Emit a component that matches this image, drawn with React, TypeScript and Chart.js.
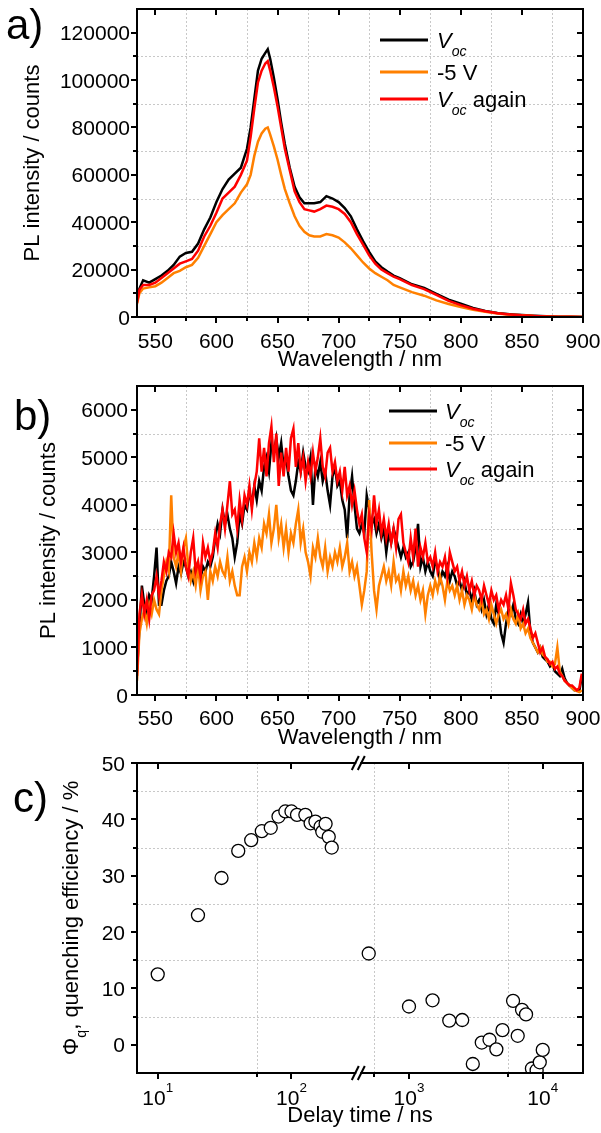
import React, { useEffect, useRef } from "react";
import { Chart, registerables } from "chart.js";

Chart.register(...registerables);

const FONT = '"Liberation Sans", Arial, Helvetica, sans-serif';

// ---------------- Series meta ----------------
const seriesColors = ["#000000", "#FF8000", "#FF0000"];

// ---------------- Panel a data ----------------
const wavelengthA = [
  535, 537, 540, 545, 550, 555, 560, 565, 570, 575,
  580, 585, 590, 595, 600, 605, 610, 615, 620, 625,
  628, 631, 634, 637, 640, 642, 644, 647, 650, 653,
  656, 660, 664, 668, 672, 676, 680, 685, 690, 695,
  700, 705, 710, 715, 720, 725, 730, 735, 740, 745,
  750, 760, 770, 780, 790, 800, 810, 820, 830, 840,
  850, 860, 870, 880, 890, 900,
];
const vocA = [
  7000, 12000, 15500, 14500, 16000, 17500, 19500, 22000, 25500, 27000,
  27500, 31000, 37000, 42000, 48500, 54000, 58000, 60500, 63000, 71000,
  80000, 92000, 104000, 109000, 111500, 113000, 109000, 101000, 92000, 82000,
  73000, 63000, 55000, 50500, 48000, 48000, 48000, 48500, 51000, 50000,
  48500, 46000, 42500, 37000, 32000, 27500, 23500, 21000, 19200, 17500,
  16400, 13800, 12300, 9800, 7300, 5600, 3800, 2500, 1700, 1200,
  800, 500, 300, 150, 80, 0,
];
const minus5A = [
  5500, 10000, 12000, 12500, 13000, 14500, 16500, 18500, 19500, 21000,
  22000, 25000, 30000, 35000, 40000, 43000, 45500, 48000, 52500, 56000,
  60000, 68000, 74000, 77500, 79500, 80000, 77000, 72000, 66500, 60000,
  54000, 48000, 42500, 38500, 36000, 34500, 34000, 34000, 35000, 34500,
  33500, 31500, 29000, 26000, 23000, 20500, 18500, 17000, 15500, 13500,
  12500, 10500, 9000, 7000, 5500, 4200, 3000, 2200, 1500, 1000,
  700, 400, 250, 150, 80, 0,
];
const vocAgainA = [
  6000, 11500, 13500, 13500, 14500, 16500, 18500, 20500, 22500, 23500,
  24500, 28000, 34000, 38500, 44000, 50000, 52500, 55000, 60000, 66000,
  76000, 88000, 99000, 104000, 107000, 108000, 104000, 97000, 89000, 80000,
  71000, 62000, 53000, 48500, 45500, 45000, 44500, 45500, 47000, 46500,
  45500, 43500, 40000, 35000, 30500, 26000, 22500, 20000, 18500, 17000,
  16000, 13500, 11800, 9300, 6800, 5000, 3500, 2400, 1600, 1100,
  700, 450, 250, 150, 80, 0,
];

// ---------------- Panel b data (2 nm sampling from 535 nm) ----------------
const wavelengthBStart = 535;
const wavelengthBStep = 2;
const vocB = [
  500, 1400, 2300, 1900, 1700, 2100, 2000, 2500, 3100, 1900,
  1900, 2200, 2400, 2500, 2800, 2600, 2350, 2700, 2550, 2800,
  2700, 2500, 2600, 2400, 2750, 2550, 2450, 2700, 2600, 2800,
  2700, 2900, 3300, 3600, 3400, 3900, 3600, 3800, 3500, 3300,
  2900, 3200, 3800, 3600, 4000, 3900, 4300, 4000, 4400, 4100,
  4500, 4300, 4800, 5000, 4700, 5300, 5100, 5400, 5000, 5300,
  4800, 5000, 4600, 4300, 4200, 4500, 4900, 4700, 5100, 4800,
  4700, 5000, 4000, 4800, 4600, 4900, 4500, 4700, 4300, 4000,
  4600, 4800, 4400, 4500, 4100, 3900, 3300, 4200, 4600, 4000,
  3500, 3400, 3600, 3400, 4200, 3900, 3600, 3700, 3400, 3600,
  3300, 3500, 3000, 3400, 3200, 3500, 3300, 3100, 2900, 3100,
  2900, 3000, 2700, 2800, 3100, 3600, 2700, 2900, 2600, 2800,
  2600, 2500, 2800, 2700, 2400, 2600, 2500, 2700, 2400, 2600,
  2500, 2300, 2400, 2200, 2400, 2100, 2200, 2000, 2200, 1900,
  2000, 1800, 2000, 1700, 1900, 1600, 1500, 1900, 1700, 1300,
  1100, 1500, 1800, 1700, 1900, 1600, 1500, 1700, 1500, 1700,
  1950, 1300, 1100, 1000, 900, 1000, 800, 750, 700, 600,
  650, 500, 450, 400, 550, 350, 250, 200, 150, 100,
  100, 80, 400,
];
const minus5B = [
  300, 1300, 1600, 1800, 1500, 1900, 1700, 2000, 1800, 1700,
  2200, 2500, 2800, 2600, 4200, 2900, 2700, 3000, 2600, 3100,
  3300, 2700, 2400, 2600, 2300, 2700, 2200, 2500, 2600, 2000,
  2600, 2400, 2700, 2500, 2800, 2600, 2500, 2900, 2400, 2600,
  2300, 2100, 2100, 2700, 2900, 2600, 3000, 2800, 3200, 2900,
  3300, 3100, 3600, 3400, 3800, 3200, 3500, 4000, 3300, 3600,
  3100, 3500, 3000, 3400, 3200, 3600, 3900, 3200, 3500, 3000,
  2800, 2500, 3100, 2900, 3300, 2900, 2700, 3100, 2600, 2900,
  2700, 3000, 2800, 3100, 2700, 2900, 3200, 2600, 2800, 2500,
  2700, 2300, 1900, 2200, 2600, 4100, 3000, 2200, 1800, 2300,
  2500, 2700, 2400, 2600, 2300, 2800, 2400, 2500, 2200, 2600,
  2300, 2500, 2200, 2400, 2100, 2300, 2000, 2200, 1700, 2100,
  2300, 2100, 2400, 2200, 2500, 2300, 2000, 2400, 2200, 2300,
  2100, 2300, 2000, 2200, 1900, 2100, 2000, 1800, 2100, 1900,
  1800, 2000, 1700, 1800, 1600, 1900, 1700, 1500, 1700, 1800,
  1600, 1700, 1500, 1800, 1600, 1500, 1700, 1400, 1500, 1300,
  1400, 1200, 1100, 1000, 900, 1000, 850, 800, 700, 700,
  600, 650, 1000, 500, 400, 300, 250, 200, 150, 100,
  80, 60, 100,
];
const vocAgainB = [
  400, 1700, 2100, 1700, 2000, 1600, 2100, 2200, 2500, 2100,
  2400, 2800, 2600, 3000, 2900, 3400, 3000, 3200, 2800, 3100,
  2700, 2500, 3000, 3300, 2600, 2800, 2500, 3200, 2900, 3100,
  2800, 3000, 3400, 3100, 3600, 3900, 3500, 4000, 4500, 3800,
  3900, 3500, 4100, 3700, 4200, 4000, 4400, 3900, 4400, 4700,
  5400, 4700, 5200, 4600, 5300, 5650, 4900, 5500, 4400, 5100,
  4600, 5200, 4700, 5400, 5600, 4800, 5300, 4700, 5000, 4500,
  4900, 4600, 5100, 4700, 5000, 5400, 4800, 4600, 5100, 5200,
  4700, 4900, 4500, 4700, 4300, 4800, 4200, 4400, 4000, 4300,
  3900, 3600, 3800, 3300, 3000, 3800, 3500, 4200, 3600, 3900,
  3400, 3700, 3300, 3600, 3200, 3500, 3100, 3700, 3800, 3200,
  3000, 2800, 3300, 2900, 3500, 2700, 3100, 2900, 3200, 2800,
  2900, 2700, 3000, 2600, 2800, 2700, 2900, 2500, 3000, 2800,
  2600, 2700, 2400, 2600, 2300, 2500, 2200, 2400, 2100, 2300,
  2200, 2000, 2300, 2100, 1900, 2200, 2000, 2100, 1800, 2000,
  1900, 2100, 1800, 2350, 2100, 1800, 1700, 1600, 1800, 1500,
  1600, 1400, 1200, 1300, 1100, 900, 1000, 800, 750, 650,
  700, 550, 600, 450, 400, 300, 250, 200, 200, 150,
  100, 150, 450,
];
const wavelengthB = vocB.map((_, i) => wavelengthBStart + i * wavelengthBStep);

// ---------------- Panel c data ----------------
const delayNs = [
  10, 20, 30, 40, 50, 60, 70, 80, 90, 100,
  110, 127, 139, 151, 165, 170, 180, 190, 200, 500,
  1000, 1500, 2000, 2500, 3000, 3500, 4000, 4500, 5000, 6000,
  6500, 7000, 7500, 8300, 9000, 9500, 10000,
];
const quenchingPct = [
  12.5, 23.0, 29.6, 34.4, 36.3, 37.9, 38.5, 40.5, 41.4, 41.4,
  40.8, 40.8, 39.3, 39.6, 38.7, 37.8, 39.2, 36.9, 35.0, 16.2,
  6.8, 7.9, 4.3, 4.4, -3.4, 0.4, 0.9, -0.8, 2.6, 7.8,
  1.6, 6.2, 5.4, -4.2, -4.5, -3.1, -0.9,
];

// ---------------- Axis ticks ----------------
const wavelengthTicks = [550, 600, 650, 700, 750, 800, 850, 900];
const wavelengthMinor = [575, 625, 675, 725, 775, 825, 875];
const intensityTicksA = [0, 20000, 40000, 60000, 80000, 100000, 120000];
const intensityMinorA = [10000, 30000, 50000, 70000, 90000, 110000];
const intensityTicksB = [0, 1000, 2000, 3000, 4000, 5000, 6000];
const intensityMinorB = [500, 1500, 2500, 3500, 4500, 5500];
const delayTicks = [10, 100, 1000, 10000];
const delayTickExponents = ["1", "2", "3", "4"];
const delayMinor = [55, 550, 5500];
const quenchTicks = [0, 10, 20, 30, 40, 50];
const quenchMinor = [5, 15, 25, 35, 45];

// broken log axis: 300 ns .. 440 ns removed
const BREAK_LO = 300;
const BREAK_HI = 440;
const BREAK_GAP = 0.045;
const brokenLog = (t: number) =>
  t <= BREAK_LO
    ? Math.log10(t)
    : Math.log10(t) - Math.log10(BREAK_HI) + Math.log10(BREAK_LO) + BREAK_GAP;

// ---------------- Drawing helpers ----------------
type Seg = { t: string; i?: boolean; sub?: boolean; sup?: boolean };

const fontStr = (size: number, italic?: boolean) =>
  `${italic ? "italic " : ""}${size}px ${FONT}`;

function segSize(s: Seg, size: number) {
  return s.sub || s.sup ? size * 0.64 : size;
}
function segsWidth(ctx: CanvasRenderingContext2D, segs: Seg[], size: number) {
  let w = 0;
  for (const s of segs) {
    ctx.font = fontStr(segSize(s, size), s.i);
    w += ctx.measureText(s.t).width;
  }
  return w;
}
function drawSegs(
  ctx: CanvasRenderingContext2D,
  segs: Seg[],
  x: number,
  y: number,
  size: number,
  align: "left" | "center" | "right"
) {
  const w = segsWidth(ctx, segs, size);
  let cx = align === "left" ? x : align === "center" ? x - w / 2 : x - w;
  ctx.textAlign = "left";
  ctx.textBaseline = "alphabetic";
  ctx.fillStyle = "#000";
  for (const s of segs) {
    const sz = segSize(s, size);
    ctx.font = fontStr(sz, s.i);
    const dy = s.sub ? size * 0.36 : s.sup ? -size * 0.62 : 0;
    ctx.fillText(s.t, cx, y + dy);
    cx += ctx.measureText(s.t).width;
  }
}

type TickDef = { v: number; segs: Seg[] };
type PanelSpec = {
  xMajor: TickDef[];
  xMinor: number[];
  yMajor: TickDef[];
  yMinor: number[];
  xMap?: (v: number) => number;
  yLabelGap: number;
  xLabelY: number;
  xTitle: Seg[];
  xTitleY: number;
  yTitle: Seg[];
  yTitleX: number;
  letter: string;
  letterX: number;
  letterY: number;
  legend?: { x0: number; x1: number; textX: number; rows: { y: number; color: string; segs: Seg[] }[] };
  breakRange?: [number, number];
};

const TICK_FONT = 21;
const TITLE_FONT = 22;

function makeDecor(spec: PanelSpec) {
  return {
    id: "decor",
    beforeDatasetsDraw(chart: any) {
      const { ctx, chartArea: a, scales } = chart;
      const xp = (v: number) => scales.x.getPixelForValue(spec.xMap ? spec.xMap(v) : v);
      const yp = (v: number) => scales.y.getPixelForValue(v);
      ctx.save();
      ctx.strokeStyle = "#c8c8c8";
      ctx.lineWidth = 1;
      ctx.setLineDash([2, 2]);
      for (const g of spec.xMinor) {
        const x = Math.round(xp(g)) + 0.5;
        ctx.beginPath();
        ctx.moveTo(x, a.top);
        ctx.lineTo(x, a.bottom);
        ctx.stroke();
      }
      for (const g of spec.yMinor) {
        const y = Math.round(yp(g)) + 0.5;
        ctx.beginPath();
        ctx.moveTo(a.left, y);
        ctx.lineTo(a.right, y);
        ctx.stroke();
      }
      ctx.restore();
    },
    afterDatasetsDraw(chart: any) {
      const { ctx, chartArea: a, scales } = chart;
      const xp = (v: number) => scales.x.getPixelForValue(spec.xMap ? spec.xMap(v) : v);
      const yp = (v: number) => scales.y.getPixelForValue(v);
      ctx.save();
      ctx.strokeStyle = "#000";
      ctx.lineWidth = 2;
      ctx.setLineDash([]);
      ctx.lineCap = "square";
      // frame
      const line = (x1: number, y1: number, x2: number, y2: number) => {
        ctx.beginPath();
        ctx.moveTo(x1, y1);
        ctx.lineTo(x2, y2);
        ctx.stroke();
      };
      line(a.left, a.top, a.left, a.bottom);
      line(a.right, a.top, a.right, a.bottom);
      if (spec.breakRange) {
        const g0 = xp(spec.breakRange[0]);
        const g1 = xp(spec.breakRange[1]);
        for (const y of [a.top, a.bottom]) {
          line(a.left, y, g0, y);
          line(g1, y, a.right, y);
          ctx.lineCap = "butt";
          for (const gx of [g0, g1]) line(gx - 3.5, y + 7, gx + 3.5, y - 7);
          ctx.lineCap = "square";
        }
      } else {
        line(a.left, a.top, a.right, a.top);
        line(a.left, a.bottom, a.right, a.bottom);
      }
      // ticks
      ctx.lineCap = "butt";
      for (const t of spec.xMajor) {
        const x = Math.round(xp(t.v));
        line(x, a.bottom, x, a.bottom + 6);
        line(x, a.top, x, a.top + 6);
      }
      for (const v of spec.xMinor) {
        const x = Math.round(xp(v));
        line(x, a.bottom, x, a.bottom + 4);
      }
      for (const t of spec.yMajor) {
        const y = Math.round(yp(t.v));
        line(a.left, y, a.left - 6, y);
        line(a.right, y, a.right - 6, y);
      }
      for (const v of spec.yMinor) {
        const y = Math.round(yp(v));
        line(a.left, y, a.left - 4, y);
        line(a.right, y, a.right - 6, y);
      }
      // tick labels
      for (const t of spec.xMajor) drawSegs(ctx, t.segs, xp(t.v), spec.xLabelY, TICK_FONT, "center");
      for (const t of spec.yMajor)
        drawSegs(ctx, t.segs, a.left - spec.yLabelGap, yp(t.v) + 0.358 * TICK_FONT, TICK_FONT, "right");
      // titles
      drawSegs(ctx, spec.xTitle, (a.left + a.right) / 2, spec.xTitleY, TITLE_FONT, "center");
      ctx.save();
      ctx.translate(spec.yTitleX, (a.top + a.bottom) / 2);
      ctx.rotate(-Math.PI / 2);
      drawSegs(ctx, spec.yTitle, 0, 0, TITLE_FONT, "center");
      ctx.restore();
      // legend
      if (spec.legend) {
        const L = spec.legend;
        for (const r of L.rows) {
          ctx.strokeStyle = r.color;
          ctx.lineWidth = 3;
          line(L.x0, r.y, L.x1, r.y);
          drawSegs(ctx, r.segs, L.textX, r.y + 0.358 * TITLE_FONT, TITLE_FONT, "left");
        }
      }
      // panel letter
      ctx.fillStyle = "#000";
      ctx.font = fontStr(42);
      ctx.textAlign = "left";
      ctx.textBaseline = "alphabetic";
      ctx.fillText(spec.letter, spec.letterX, spec.letterY);
      ctx.restore();
    },
  };
}

const legendSegs: Seg[][] = [
  [{ t: "V", i: true }, { t: "oc", i: true, sub: true }],
  [{ t: "-5 V" }],
  [{ t: "V", i: true }, { t: "oc", i: true, sub: true }, { t: " again" }],
];

const numTicks = (vals: number[]): TickDef[] => vals.map((v) => ({ v, segs: [{ t: String(v) }] }));

function spectrumDatasets(wl: number[], series: number[][]) {
  return series.map((vals, k) => ({
    label: ["Voc", "-5 V", "Voc again"][k],
    data: wl.map((x, i) => ({ x, y: vals[i] })),
    borderColor: seriesColors[k],
    borderWidth: 2.5,
    pointRadius: 0,
    tension: 0,
    fill: false,
    order: 2 - k,
  }));
}

const baseOptions = (padding: any, xMin: number, xMax: number, yMin: number, yMax: number) => ({
  animation: false,
  responsive: false,
  events: [],
  layout: { padding },
  scales: {
    x: { type: "linear", min: xMin, max: xMax, display: false },
    y: { type: "linear", min: yMin, max: yMax, display: false },
  },
  plugins: { legend: { display: false }, tooltip: { enabled: false }, title: { display: false } },
});

// canvas placements (page coords)
const CANVAS_A = { top: 0, height: 374 };
const CANVAS_B = { top: 374, height: 378 };
const CANVAS_C = { top: 752, height: 381 };

function buildA() {
  const spec: PanelSpec = {
    xMajor: numTicks(wavelengthTicks),
    xMinor: wavelengthMinor,
    yMajor: numTicks(intensityTicksA),
    yMinor: intensityMinorA,
    yLabelGap: 7,
    xLabelY: 348,
    xTitle: [{ t: "Wavelength / nm" }],
    xTitleY: 366,
    yTitle: [{ t: "PL intensity / counts" }],
    yTitleX: 39,
    letter: "a)",
    letterX: 6,
    letterY: 39,
    legend: {
      x0: 380,
      x1: 428,
      textX: 437,
      rows: [
        { y: 40, color: seriesColors[0], segs: legendSegs[0] },
        { y: 72, color: seriesColors[1], segs: legendSegs[1] },
        { y: 99, color: seriesColors[2], segs: legendSegs[2] },
      ],
    },
  };
  return {
    type: "line",
    data: { datasets: spectrumDatasets(wavelengthA, [vocA, minus5A, vocAgainA]) },
    options: baseOptions({ left: 137, right: 18, top: 9, bottom: CANVAS_A.height - 317 }, 535, 900, 0, 130000),
    plugins: [makeDecor(spec)],
  };
}

function buildB() {
  const off = CANVAS_B.top;
  const spec: PanelSpec = {
    xMajor: numTicks(wavelengthTicks),
    xMinor: wavelengthMinor,
    yMajor: numTicks(intensityTicksB),
    yMinor: intensityMinorB,
    yLabelGap: 9,
    xLabelY: 725 - off,
    xTitle: [{ t: "Wavelength / nm" }],
    xTitleY: 744 - off,
    yTitle: [{ t: "PL intensity / counts" }],
    yTitleX: 55,
    letter: "b)",
    letterX: 14,
    letterY: 430 - off,
    legend: {
      x0: 389,
      x1: 437,
      textX: 445,
      rows: [
        { y: 411 - off, color: seriesColors[0], segs: legendSegs[0] },
        { y: 443 - off, color: seriesColors[1], segs: legendSegs[1] },
        { y: 469 - off, color: seriesColors[2], segs: legendSegs[2] },
      ],
    },
  };
  return {
    type: "line",
    data: { datasets: spectrumDatasets(wavelengthB, [vocB, minus5B, vocAgainB]) },
    options: baseOptions(
      { left: 137, right: 18, top: 386 - off, bottom: CANVAS_B.top + CANVAS_B.height - 695 },
      535,
      900,
      0,
      6500
    ),
    plugins: [makeDecor(spec)],
  };
}

function buildC() {
  const off = CANVAS_C.top;
  const spec: PanelSpec = {
    xMajor: delayTicks.map((v, i) => ({ v, segs: [{ t: "10" }, { t: delayTickExponents[i], sup: true }] })),
    xMinor: delayMinor,
    yMajor: numTicks(quenchTicks),
    yMinor: quenchMinor,
    xMap: brokenLog,
    yLabelGap: 12,
    xLabelY: 1105 - off,
    xTitle: [{ t: "Delay time / ns" }],
    xTitleY: 1122 - off,
    yTitle: [{ t: "Φ" }, { t: "q", sub: true }, { t: ", quenching efficiency / %" }],
    yTitleX: 78,
    letter: "c)",
    letterX: 13,
    letterY: 812 - off,
    breakRange: [BREAK_LO, BREAK_HI],
  };
  return {
    type: "scatter",
    data: {
      datasets: [
        {
          label: "Φq",
          data: delayNs.map((t, i) => ({ x: brokenLog(t), y: quenchingPct[i] })),
          pointRadius: 6.5,
          pointBorderWidth: 1.3,
          pointBorderColor: "#000",
          pointBackgroundColor: "#fff",
          borderColor: "#000",
          backgroundColor: "#fff",
          showLine: false,
          clip: 0,
        },
      ],
    },
    options: baseOptions(
      { left: 137, right: 18, top: 763 - off, bottom: CANVAS_C.top + CANVAS_C.height - 1073 },
      brokenLog(7),
      brokenLog(20000),
      -5,
      50
    ),
    plugins: [makeDecor(spec)],
  };
}

function Panel({ top, height, build }: { top: number; height: number; build: () => any }) {
  const ref = useRef<HTMLCanvasElement>(null);
  useEffect(() => {
    if (!ref.current) return;
    const chart = new Chart(ref.current, build());
    return () => chart.destroy();
  }, [build]);
  return (
    <canvas
      ref={ref}
      width={601}
      height={height}
      style={{ position: "absolute", left: 0, top, width: 601, height, display: "block" }}
    />
  );
}

export default function App() {
  return (
    <div style={{ position: "absolute", left: 0, top: 0, width: 601, height: 1133, background: "#fff" }}>
      <Panel top={CANVAS_A.top} height={CANVAS_A.height} build={buildA} />
      <Panel top={CANVAS_B.top} height={CANVAS_B.height} build={buildB} />
      <Panel top={CANVAS_C.top} height={CANVAS_C.height} build={buildC} />
    </div>
  );
}
